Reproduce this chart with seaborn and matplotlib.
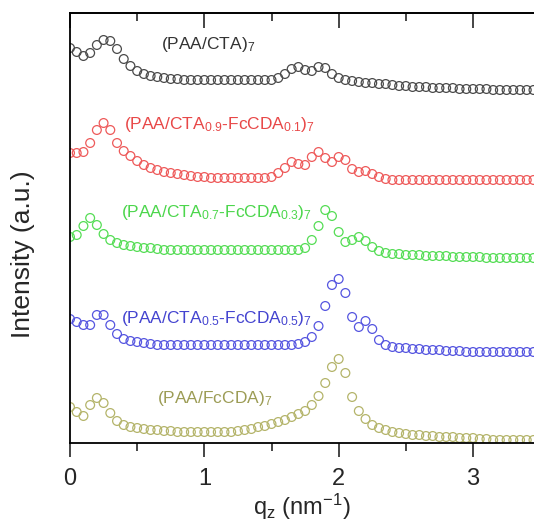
import matplotlib
matplotlib.use("Agg")
import matplotlib.pyplot as plt
import seaborn as sns
import pandas as pd

# scattering vector q_z (nm^-1)
q = [0.00, 0.05, 0.10, 0.15, 0.20, 0.25, 0.30, 0.35, 0.40, 0.45,
     0.50, 0.55, 0.60, 0.65, 0.70, 0.75, 0.80, 0.85, 0.90, 0.95,
     1.00, 1.05, 1.10, 1.15, 1.20, 1.25, 1.30, 1.35, 1.40, 1.45,
     1.50, 1.55, 1.60, 1.65, 1.70, 1.75, 1.80, 1.85, 1.90, 1.95,
     2.00, 2.05, 2.10, 2.15, 2.20, 2.25, 2.30, 2.35, 2.40, 2.45,
     2.50, 2.55, 2.60, 2.65, 2.70, 2.75, 2.80, 2.85, 2.90, 2.95,
     3.00, 3.05, 3.10, 3.15, 3.20, 3.25, 3.30, 3.35, 3.40, 3.45]

# offset intensities (a.u.)
paa_cta = [395, 391, 387, 390, 398, 403, 402, 394, 384, 377,
           372, 369, 367, 366, 365, 364, 364, 363, 363, 363,
           363, 363, 363, 363, 363, 363, 363, 363, 363, 363,
           363, 365, 369, 374, 376, 373, 372, 376, 375, 369,
           365, 363, 362, 361, 360, 360, 359, 359, 358, 357,
           357, 356, 356, 356, 355, 355, 355, 355, 354, 354,
           354, 354, 354, 353, 353, 353, 353, 353, 353, 353]

cta09 = [290, 290, 291, 300, 313, 320, 313, 300, 292, 287,
         282, 278, 275, 273, 271, 270, 269, 268, 267, 266,
         266, 265, 265, 265, 265, 265, 265, 265, 265, 265,
         266, 270, 275, 281, 279, 278, 286, 291, 285, 281,
         286, 283, 274, 271, 272, 269, 266, 264, 263, 263,
         263, 263, 263, 263, 263, 263, 263, 263, 263, 263,
         263, 263, 263, 263, 263, 263, 263, 263, 263, 263]

cta07 = [206, 208, 217, 225, 218, 209, 203, 200, 198, 197,
         196, 195, 195, 194, 193, 193, 193, 193, 193, 193,
         193, 193, 193, 193, 193, 193, 193, 193, 193, 193,
         193, 193, 193, 193, 193, 195, 203, 217, 233, 227,
         211, 201, 203, 206, 202, 196, 192, 190, 189, 189,
         188, 188, 188, 187, 187, 187, 187, 186, 186, 186,
         186, 186, 185, 185, 185, 185, 185, 185, 185, 185]

cta05 = [124, 121, 118, 118, 128, 128, 118, 109, 104, 102,
         101, 100, 99, 98, 98, 98, 98, 98, 98, 98,
         98, 98, 98, 98, 98, 98, 98, 98, 98, 98,
         98, 98, 98, 98, 99, 101, 106, 117, 137, 158,
         164, 150, 126, 116, 122, 114, 103, 98, 96, 95,
         95, 94, 94, 93, 93, 93, 92, 92, 92, 91,
         91, 91, 91, 91, 91, 91, 91, 91, 91, 91]

paa_fc = [36, 31, 27, 38, 45, 40, 30, 22, 18, 16,
          15, 14, 13, 13, 12, 12, 11, 11, 11, 11,
          11, 11, 11, 11, 11, 12, 13, 14, 16, 17,
          19, 21, 23, 26, 29, 32, 38, 47, 60, 76,
          84, 70, 46, 32, 24, 18, 15, 13, 11, 10,
          9, 8, 8, 7, 7, 6, 6, 6, 5, 5,
          5, 4, 4, 3, 3, 3, 3, 3, 3, 3]

names = [r"(PAA/CTA)$_7$",
         r"(PAA/CTA$_{0.9}$-FcCDA$_{0.1}$)$_7$",
         r"(PAA/CTA$_{0.7}$-FcCDA$_{0.3}$)$_7$",
         r"(PAA/CTA$_{0.5}$-FcCDA$_{0.5}$)$_7$",
         r"(PAA/FcCDA)$_7$"]
series = [paa_cta, cta09, cta07, cta05, paa_fc]
colors = ["#4a4a4a", "#ee5a5a", "#55dd55", "#5555e0", "#b4b46a"]
text_colors = ["#333333", "#e84848", "#4cd64c", "#4444d0", "#9c9c55"]
label_x = [0.68, 0.40, 0.38, 0.38, 0.65]
label_y = [398, 318, 230, 125, 45]

sns.set_style("white")
plt.rcParams["font.family"] = ["Liberation Sans", "DejaVu Sans"]
plt.rcParams["mathtext.default"] = "regular"

fig = plt.figure(figsize=(5.34, 5.28), dpi=100)
ax = fig.add_axes([70 / 534, 85 / 528, 464 / 534, 430 / 528])

for name, vals, col in zip(names, series, colors):
    df = pd.DataFrame({"q": q, "I": vals})
    sns.scatterplot(data=df, x="q", y="I", ax=ax, marker="o", s=40,
                    facecolor="none", edgecolor=col, linewidth=0.9,
                    legend=False)

for name, tx, ty, tc in zip(names, label_x, label_y, text_colors):
    ax.text(tx, ty, name, color=tc, fontsize=12.5, va="center", ha="left")

ax.set_xlim(0, 3.454)
ax.set_ylim(0, 430)
ax.set_yticks([])
ax.set_xticks([0, 1, 2, 3])
ax.set_xticks([0.5, 1.5, 2.5], minor=True)
ax.tick_params(axis="x", which="major", direction="out", length=10, width=1.2,
               labelsize=17, pad=8, bottom=True, top=False)
ax.tick_params(axis="x", which="minor", direction="out", length=6, width=1.2,
               bottom=True, top=False)

top = ax.secondary_xaxis("top")
top.set_xticks([0, 1, 2, 3])
top.set_xticks([0.5, 1.5, 2.5], minor=True)
top.tick_params(which="major", direction="in", length=11, width=1.2, labeltop=False)
top.tick_params(which="minor", direction="in", length=6, width=1.2)
top.spines["top"].set_linewidth(1.3)

for side in ["left", "bottom", "top"]:
    ax.spines[side].set_linewidth(1.3)
    ax.spines[side].set_color("black")
ax.spines["right"].set_visible(False)

ax.set_xlabel(r"q$_z$ (nm$^{-1}$)", fontsize=17, labelpad=1)
ax.set_ylabel("Intensity (a.u.)", fontsize=19)
ax.yaxis.set_label_coords(-0.075, 0.44)

fig.savefig("out.png", dpi=100)
